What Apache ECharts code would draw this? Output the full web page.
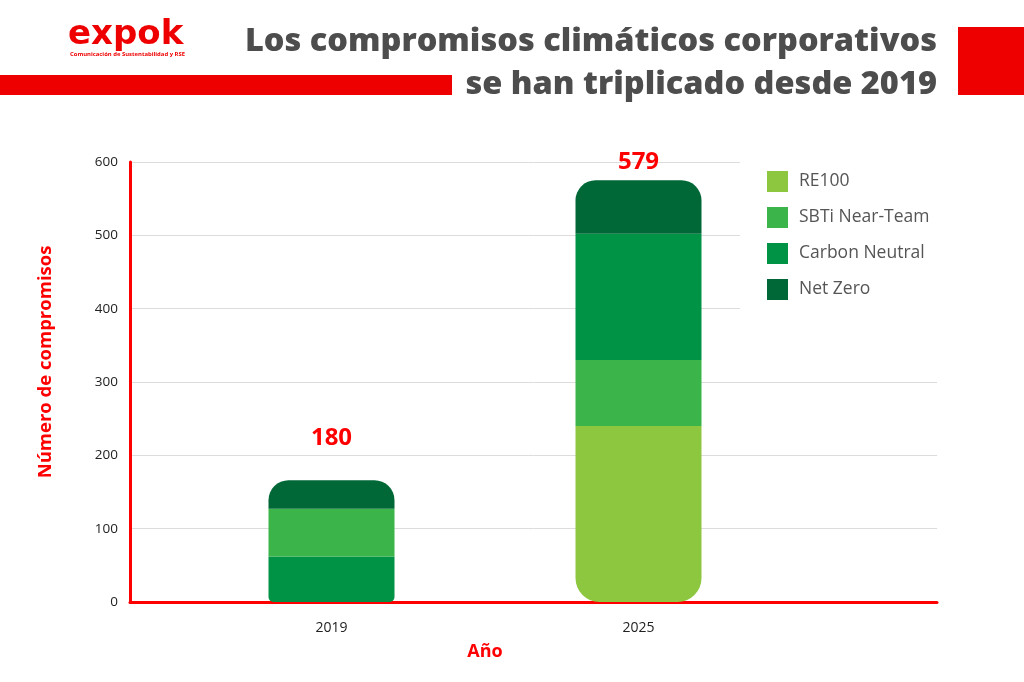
<!DOCTYPE html>
<html>
<head>
<meta charset="utf-8">
<script src="https://cdn.jsdelivr.net/npm/echarts@6/dist/echarts.min.js"></script>
<style>
  html, body { margin: 0; padding: 0; background: #fff; }
  #chart { width: 1024px; height: 682px; }
</style>
</head>
<body>
<div id="chart"></div>
<script>
// Values (segment heights), plus the printed totals
var years = ['2019', '2025'];
var re100 = [0, 240];
var sbti = [65, 90];
var carbonNeutral = [62, 172];
var netZero = [39, 73];
var totals = [180, 579];
var yTicks = [0, 100, 200, 300, 400, 500, 600];
var titleLines = ['Los compromisos climáticos corporativos', 'se han triplicado desde 2019'];

var RED = '#f00';
var colors = {
  re100: '#8dc63f',
  sbti: '#3bb54a',
  carbon: '#009245',
  net: '#006837'
};

var chart = echarts.init(document.getElementById('chart'));

// In 2019 Carbon Neutral sits below SBTi, in 2025 above it,
// so it is split into two stacked series sharing one legend name.
function pick(arr, idx) {
  return arr.map(function (v, i) { return i === idx ? v : '-'; });
}

function items(arr, style) {
  return arr.map(function (v) {
    return { value: v, itemStyle: style };
  });
}

var series = [
  {
    name: 'RE100', type: 'bar', stack: 'total', xAxisIndex: 1, yAxisIndex: 1,
    barWidth: 126, itemStyle: { color: colors.re100 },
    data: items(re100, { borderRadius: [0, 0, 24, 24] })
  },
  {
    name: 'Carbon Neutral', type: 'bar', stack: 'total', xAxisIndex: 1, yAxisIndex: 1,
    barWidth: 126, itemStyle: { color: colors.carbon },
    data: items(pick(carbonNeutral, 0), { borderRadius: [0, 0, 5, 5] })
  },
  {
    name: 'SBTi Near-Team', type: 'bar', stack: 'total', xAxisIndex: 1, yAxisIndex: 1,
    barWidth: 126, itemStyle: { color: colors.sbti },
    data: sbti
  },
  {
    name: 'Carbon Neutral', type: 'bar', stack: 'total', xAxisIndex: 1, yAxisIndex: 1,
    barWidth: 126, itemStyle: { color: colors.carbon },
    data: pick(carbonNeutral, 1)
  },
  {
    name: 'Net Zero', type: 'bar', stack: 'total', xAxisIndex: 1, yAxisIndex: 1,
    barWidth: 126, itemStyle: { color: colors.net, borderRadius: [20, 20, 0, 0] },
    data: netZero.map(function (v, i) {
      return { value: v, label: { distance: i === 0 ? 30 : 6 } };
    }),
    label: {
      show: true,
      position: 'top',
      color: RED,
      fontSize: 24,
      fontWeight: 'bold',
      fontFamily: 'Open Sans',
      formatter: function (p) { return String(totals[p.dataIndex]); }
    }
  }
];

chart.setOption({
  animation: false,
  backgroundColor: '#fff',
  textStyle: { fontFamily: 'Open Sans' },
  color: [colors.re100, colors.carbon, colors.sbti, colors.carbon, colors.net],
  grid: [
    { left: 130, right: 87, top: 162, bottom: 80 },
    { left: 178, right: 232, top: 162, bottom: 80 }
  ],
  legend: {
    data: ['RE100', 'SBTi Near-Team', 'Carbon Neutral', 'Net Zero'],
    orient: 'vertical',
    left: 740,
    top: 158,
    padding: [13, 12, 13, 27],
    itemGap: 15,
    itemWidth: 21,
    itemHeight: 21,
    icon: 'rect',
    backgroundColor: '#fff',
    textStyle: { color: '#555', fontSize: 17.5, padding: [0, 0, 0, 6] }
  },
  xAxis: [
    {
      gridIndex: 0, type: 'value', min: 0, max: 1,
      axisLine: { show: true, lineStyle: { color: RED, width: 3 } },
      axisTick: { show: false }, axisLabel: { show: false }, splitLine: { show: false }
    },
    {
      gridIndex: 1, type: 'category', data: years,
      axisLine: { show: false }, axisTick: { show: false },
      axisLabel: { color: '#222', fontSize: 14, margin: 19 },
      name: 'Año', nameLocation: 'middle', nameGap: 41,
      nameTextStyle: { color: RED, fontSize: 18, fontWeight: 'bold' }
    }
  ],
  yAxis: [
    {
      gridIndex: 0, type: 'value', min: yTicks[0], max: yTicks[yTicks.length - 1], interval: 100,
      axisLine: { show: true, lineStyle: { color: RED, width: 3 } },
      axisTick: { show: false },
      axisLabel: { color: '#222', fontSize: 13.5, margin: 12 },
      splitLine: { lineStyle: { color: '#dcdcdc', width: 1 } },
      name: 'Número de compromisos', nameLocation: 'middle', nameGap: 75,
      nameTextStyle: { color: RED, fontSize: 18.5, fontWeight: 'bold', padding: [0, 0, 0, 40] }
    },
    {
      gridIndex: 1, type: 'value', min: 0, max: 600, show: false
    }
  ],
  graphic: [
    { type: 'rect', left: 0, top: 75, shape: { width: 452, height: 20 }, style: { fill: '#ee0000' } },
    { type: 'rect', left: 958, top: 27, shape: { width: 66, height: 68 }, style: { fill: '#ee0000' } },
    {
      type: 'text', left: 68, top: 18,
      style: { text: 'expok', fill: '#ee0000', font: '900 34px "DejaVu Sans"' }
    },
    {
      type: 'text', left: 70, top: 51,
      style: { text: 'Comunicación de Sustentabilidad y RSE', fill: '#ee0000', font: 'bold 5.9px "Open Sans"' }
    },
    {
      type: 'text', right: 87, top: 25,
      style: { text: titleLines[0], fill: '#4d4d4d', font: '800 32.5px "Open Sans"' }
    },
    {
      type: 'text', right: 87, top: 68,
      style: { text: titleLines[1], fill: '#4d4d4d', font: '800 32.5px "Open Sans"' }
    }
  ],
  series: series
});
</script>
</body>
</html>
